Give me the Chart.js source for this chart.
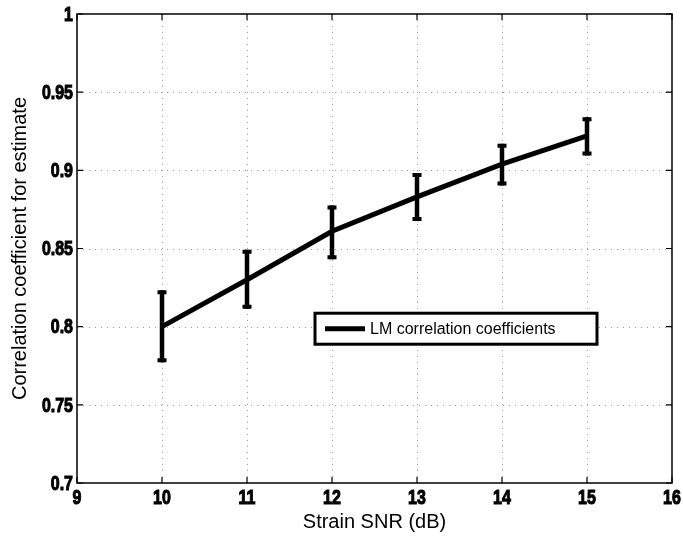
<!DOCTYPE html>
<html>
<head>
<meta charset="utf-8">
<script src="https://cdn.jsdelivr.net/npm/chart.js@4"></script>
<style>
  html, body { margin: 0; padding: 0; background: #fff; }
  canvas { display: block; }
</style>
</head>
<body>
<canvas id="c" width="683" height="538"></canvas>
<script>
// Strain SNR (dB) and the mean LM correlation coefficient at each level
const snrDb = [10, 11, 12, 13, 14, 15];
const corrMean = [0.800, 0.830, 0.861, 0.883, 0.904, 0.922];
// lower / upper ends of the error bars
const corrLow = [0.7785, 0.8127, 0.8444, 0.8688, 0.8916, 0.9108];
const corrHigh = [0.8220, 0.8479, 0.8763, 0.8970, 0.9157, 0.9326];
const seriesLabel = 'LM correlation coefficients';
const xTicks = [9, 10, 11, 12, 13, 14, 15, 16];
const yTicks = [0.7, 0.75, 0.8, 0.85, 0.9, 0.95, 1];
const yTickLabels = ['0.7', '0.75', '0.8', '0.85', '0.9', '0.95', '1'];

const tickFontCss = "bold 21px 'Liberation Sans', Arial, sans-serif";
const titleFont = { family: "'Liberation Sans', Arial, sans-serif", size: 20 };

// heavy condensed tick label
function narrowText(ctx, txt, x, y, align, baseline) {
  ctx.save();
  ctx.translate(x, y);
  ctx.scale(0.76, 1);
  ctx.font = tickFontCss;
  ctx.textAlign = align;
  ctx.textBaseline = baseline;
  ctx.lineWidth = 1.1;
  ctx.strokeStyle = '#000';
  ctx.strokeText(txt, 0, 0);
  ctx.fillText(txt, 0, 0);
  ctx.restore();
}

// dotted grid, box frame, inward tick marks and tick labels
const framePlugin = {
  id: 'frame',
  beforeDatasetsDraw(chart) {
    const { ctx, chartArea: a, scales: { x, y } } = chart;
    ctx.save();
    ctx.strokeStyle = '#9a9a9a';
    ctx.lineWidth = 1;
    ctx.setLineDash([1, 5]);
    xTicks.slice(1, -1).forEach(v => {
      const px = Math.round(x.getPixelForValue(v)) + 0.5;
      ctx.beginPath(); ctx.moveTo(px, a.top); ctx.lineTo(px, a.bottom); ctx.stroke();
    });
    yTicks.slice(1, -1).forEach(v => {
      const py = Math.round(y.getPixelForValue(v)) + 0.5;
      ctx.beginPath(); ctx.moveTo(a.left, py); ctx.lineTo(a.right, py); ctx.stroke();
    });
    ctx.setLineDash([]);
    ctx.strokeStyle = '#000';
    ctx.lineWidth = 1.5;
    ctx.strokeRect(a.left, a.top, a.right - a.left, a.bottom - a.top);
    const t = 6;
    ctx.lineWidth = 1.2;
    xTicks.forEach(v => {
      const px = x.getPixelForValue(v);
      ctx.beginPath();
      ctx.moveTo(px, a.bottom); ctx.lineTo(px, a.bottom - t);
      ctx.moveTo(px, a.top); ctx.lineTo(px, a.top + t);
      ctx.stroke();
    });
    yTicks.forEach(v => {
      const py = y.getPixelForValue(v);
      ctx.beginPath();
      ctx.moveTo(a.left, py); ctx.lineTo(a.left + t, py);
      ctx.moveTo(a.right, py); ctx.lineTo(a.right - t, py);
      ctx.stroke();
    });
    ctx.fillStyle = '#000';
    xTicks.forEach(v => narrowText(ctx, String(v), x.getPixelForValue(v), a.bottom + 5, 'center', 'top'));
    yTicks.forEach((v, i) => narrowText(ctx, yTickLabels[i], a.left - 4, y.getPixelForValue(v) + 1, 'right', 'middle'));
    ctx.restore();
  },
  afterDatasetsDraw(chart) {
    const { ctx, scales: { x, y } } = chart;
    ctx.save();
    ctx.strokeStyle = '#000';
    ctx.lineCap = 'butt';
    // error bars with caps
    snrDb.forEach((s, i) => {
      const px = x.getPixelForValue(s);
      const lo = y.getPixelForValue(corrLow[i]);
      const hi = y.getPixelForValue(corrHigh[i]);
      ctx.lineWidth = 4.5;
      ctx.beginPath(); ctx.moveTo(px, lo + 2); ctx.lineTo(px, hi - 2); ctx.stroke();
      ctx.lineWidth = 4;
      ctx.beginPath();
      ctx.moveTo(px - 4.5, hi); ctx.lineTo(px + 4.5, hi);
      ctx.moveTo(px - 4.5, lo); ctx.lineTo(px + 4.5, lo);
      ctx.stroke();
    });
    // legend box
    const bx = x.getPixelForValue(11.8), by = y.getPixelForValue(0.8086);
    const bw = 282, bh = 31;
    ctx.fillStyle = '#fff';
    ctx.fillRect(bx, by, bw, bh);
    ctx.lineWidth = 3;
    ctx.strokeRect(bx, by, bw, bh);
    ctx.lineWidth = 5;
    ctx.beginPath(); ctx.moveTo(bx + 10, by + bh / 2); ctx.lineTo(bx + 50, by + bh / 2); ctx.stroke();
    ctx.fillStyle = '#000';
    ctx.font = "16px 'Liberation Sans', Arial, sans-serif";
    ctx.textBaseline = 'middle';
    ctx.textAlign = 'left';
    ctx.fillText(seriesLabel, bx + 55, by + bh / 2 + 1);
    ctx.restore();
  }
};

new Chart(document.getElementById('c'), {
  type: 'scatter',
  data: {
    datasets: [{
      label: seriesLabel,
      data: snrDb.map((s, i) => ({ x: s, y: corrMean[i] })),
      showLine: true,
      borderColor: '#000',
      borderWidth: 5,
      pointRadius: 0,
      tension: 0
    }]
  },
  options: {
    responsive: false,
    animation: false,
    events: [],
    layout: { padding: { top: 14, right: 11, left: 0, bottom: 0 } },
    plugins: { legend: { display: false }, tooltip: { enabled: false } },
    scales: {
      x: {
        type: 'linear', min: 9, max: 16,
        afterBuildTicks: s => { s.ticks = xTicks.map(v => ({ value: v })); },
        afterFit: s => { s.height = 55; s.paddingLeft = 0; s.paddingRight = 0; },
        grid: { display: false, drawTicks: false },
        border: { display: false },
        ticks: { display: false },
        title: { display: true, text: 'Strain SNR (dB)', color: '#000', font: titleFont, padding: { top: 0, bottom: 4 } }
      },
      y: {
        type: 'linear', min: 0.7, max: 1,
        afterBuildTicks: s => { s.ticks = yTicks.map(v => ({ value: v })); },
        afterFit: s => { s.width = 77; s.paddingTop = 0; s.paddingBottom = 0; },
        grid: { display: false, drawTicks: false },
        border: { display: false },
        ticks: { display: false },
        title: { display: true, text: 'Correlation coefficient for estimate', color: '#000', font: titleFont, padding: { top: 8, bottom: 0 } }
      }
    }
  },
  plugins: [framePlugin]
});
</script>
</body>
</html>
